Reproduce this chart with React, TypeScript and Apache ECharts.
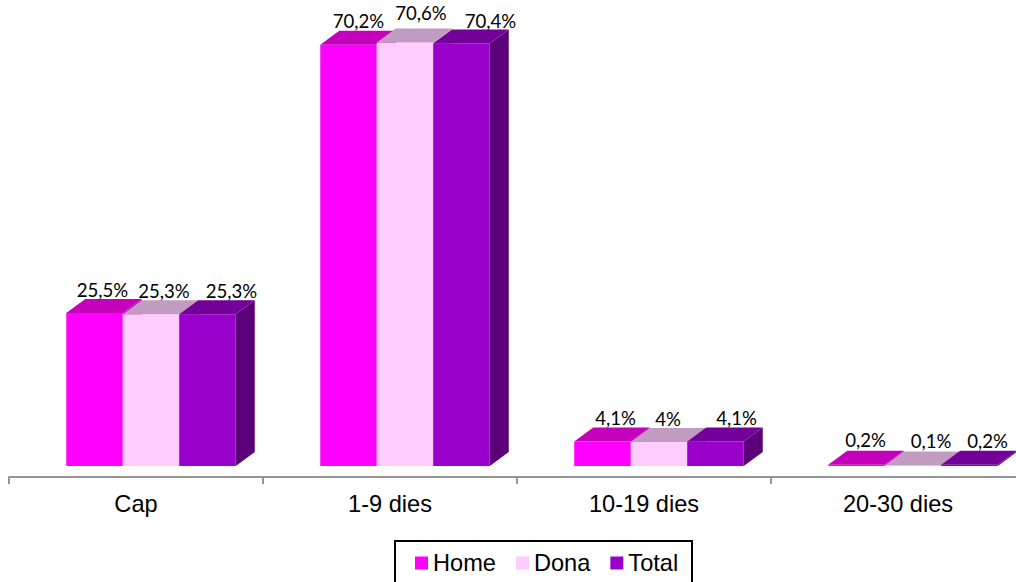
import React, { useEffect, useRef } from "react";
import * as echarts from "echarts";

const categories = ["Cap", "1-9 dies", "10-19 dies", "20-30 dies"];
const home = [25.5, 70.2, 4.1, 0.2];
const dona = [25.3, 70.6, 4, 0.1];
const total = [25.3, 70.4, 4.1, 0.2];

const seriesNames = ["Home", "Dona", "Total"];
const seriesValues = [home, dona, total];
const frontColors = ["#FF00FF", "#FFCCFF", "#9900CC"];
const topColors = ["#C400BC", "#C29BC2", "#730099"];
const sideColors = ["#BF00BF", "#BF99BF", "#5C007A"];

// label nudges from the top-centre of each bar's front face, [series][category] as [dx, dy]
const labelNudges = [
  [[8, -23], [10, -24], [13, -23], [9, -25]],
  [[13, -23], [16, -29], [9, -23], [18, -24]],
  [[24, -23], [29, -23], [21, -23], [18, -24]],
];

const BAR_W = 56.5;
const DEPTH_X = 19;
const DEPTH_Y = 14;
const GROUP_SHIFT = 15;

const formatValue = (v: number) => String(v).replace(".", ",") + "%";

function App() {
  const ref = useRef<HTMLDivElement>(null);
  useEffect(() => {
    const chart = echarts.init(ref.current!, undefined, { renderer: "svg" });
    const makeRender = (s: number) => (params: any, api: any) => {
      const cat = api.value(0);
      const val = api.value(1);
      const base = api.coord([cat, 0]);
      const tip = api.coord([cat, val]);
      const x0 = base[0] + GROUP_SHIFT + (s - 1.5) * BAR_W;
      const x1 = x0 + BAR_W;
      const yb = base[1];
      const yt = tip[1];
      const nudge = labelNudges[s][cat];
      return {
        type: "group",
        children: [
          {
            type: "polygon",
            shape: { points: [[x1, yb], [x1 + DEPTH_X, yb - DEPTH_Y], [x1 + DEPTH_X, yt - DEPTH_Y], [x1, yt]] },
            style: { fill: sideColors[s] },
          },
          { type: "rect", shape: { x: x0, y: yt, width: BAR_W, height: yb - yt }, style: { fill: frontColors[s] } },
          {
            type: "polygon",
            shape: { points: [[x0, yt], [x0 + DEPTH_X, yt - DEPTH_Y], [x1 + DEPTH_X, yt - DEPTH_Y], [x1, yt]] },
            style: { fill: topColors[s] },
          },
          {
            type: "text",
            x: (x0 + x1) / 2 + nudge[0],
            y: yt + nudge[1],
            style: {
              text: formatValue(val),
              fill: "#000",
              font: "18.6px Lato",
              align: "center",
              verticalAlign: "middle",
            },
          },
        ],
      };
    };
    chart.setOption({
      animation: false,
      backgroundColor: "#fff",
      grid: { left: 9, width: 1016, top: 0, height: 477, outerBoundsMode: "none" },
      xAxis: {
        type: "category",
        data: categories,
        axisLine: { onZero: false, lineStyle: { color: "#969696", width: 2 } },
        axisTick: { show: true, length: 7, alignWithLabel: false, lineStyle: { color: "#969696", width: 2 } },
        axisLabel: { color: "#000", fontFamily: "Liberation Sans", fontSize: 23.6, margin: 15 },
      },
      yAxis: { type: "value", min: -11 / 6, max: 466 / 6, show: false, splitLine: { show: false } },
      legend: {
        left: 410,
        top: 546,
        padding: 5,
        itemWidth: 13,
        itemHeight: 13,
        itemGap: 20,
        icon: "rect",
        data: seriesNames,
        textStyle: { color: "#000", fontFamily: "Liberation Sans", fontSize: 23.6 },
      },
      graphic: [
        {
          type: "rect",
          silent: true,
          shape: { x: 395, y: 541, width: 297, height: 60 },
          style: { fill: "none", stroke: "#000", lineWidth: 2 },
        },
      ],
      series: seriesNames.map((name, s) => ({
        type: "custom",
        name,
        itemStyle: { color: frontColors[s] },
        encode: { x: 0, y: 1 },
        renderItem: makeRender(s),
        data: seriesValues[s].map((v, i) => [i, v]),
      })),
    });
    return () => chart.dispose();
  }, []);
  return <div ref={ref} style={{ position: "absolute", left: 0, top: 0, width: 1016, height: 582, overflow: "hidden" }} />;
}

export default App;
